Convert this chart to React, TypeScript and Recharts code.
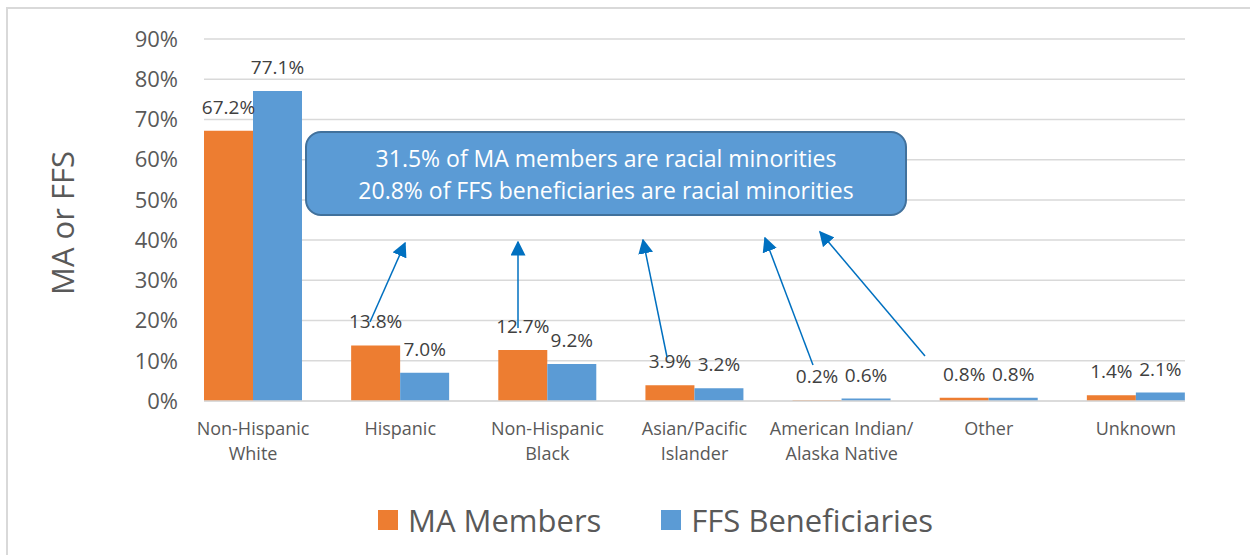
import {
  BarChart,
  Bar,
  XAxis,
  YAxis,
  CartesianGrid,
  Legend,
  LabelList,
  Label,
} from 'recharts';

const categories = [
  'Non-Hispanic\nWhite',
  'Hispanic',
  'Non-Hispanic\nBlack',
  'Asian/Pacific\nIslander',
  'American Indian/\nAlaska Native',
  'Other',
  'Unknown',
];
const maMembers = [67.2, 13.8, 12.7, 3.9, 0.2, 0.8, 1.4];
const ffsBeneficiaries = [77.1, 7.0, 9.2, 3.2, 0.6, 0.8, 2.1];
const yTicks = [0, 10, 20, 30, 40, 50, 60, 70, 80, 90];
const seriesNames = ['MA Members', 'FFS Beneficiaries'];
const calloutLines = [
  '31.5% of MA members are racial minorities',
  '20.8% of FFS beneficiaries are racial minorities',
];

// arrow annotations: tail -> tip, in page pixels
const arrows = [
  [370, 322, 405, 243],
  [518, 328, 518, 242],
  [667, 357, 643, 240],
  [813, 365, 765, 238],
  [925, 356, 820, 232],
];

const ORANGE = '#ED7D31';
const BLUE = '#5B9BD5';
const TEXT = '#595959';
const FONT = '"Open Sans", sans-serif';

const data = categories.map((c, i) => ({
  category: c,
  ma: maMembers[i],
  ffs: ffsBeneficiaries[i],
}));

function CategoryTick({ x, y, payload }: any) {
  const lines = String(payload.value).split('\n');
  return (
    <text x={x} y={y} textAnchor="middle" fill={TEXT} fontSize={18} fontFamily={FONT}>
      {lines.map((l, i) => (
        <tspan key={i} x={x} dy={i === 0 ? 34 : 25}>
          {l}
        </tspan>
      ))}
    </text>
  );
}

function LegendContent({ payload }: any) {
  const items = [...(payload || [])].sort(
    (a: any, b: any) => seriesNames.indexOf(a.value) - seriesNames.indexOf(b.value)
  );
  return (
    <div style={{ display: 'flex', alignItems: 'center', height: 40, paddingLeft: 378 }}>
      {items.map((p: any) => (
        <div key={p.value} style={{ display: 'flex', alignItems: 'center', marginRight: 60 }}>
          <span style={{ width: 20, height: 20, background: p.color, marginRight: 10 }} />
          <span style={{ fontSize: 31, color: TEXT, lineHeight: '40px', fontFamily: FONT }}>
            {p.value}
          </span>
        </div>
      ))}
    </div>
  );
}

function AxisTitle({ viewBox }: any) {
  const cx = viewBox.x + 62;
  const cy = viewBox.y + viewBox.height / 2 + 3;
  return (
    <text
      x={cx}
      y={cy}
      transform={`rotate(-90 ${cx} ${cy})`}
      textAnchor="middle"
      dominantBaseline="central"
      fontSize={31}
      fill={TEXT}
      fontFamily={FONT}
    >
      MA or FFS
    </text>
  );
}

export default function App() {
  return (
    <div
      style={{
        position: 'relative',
        width: 1250,
        height: 555,
        overflow: 'hidden',
        background: '#fff',
        fontFamily: FONT,
      }}
    >
      <style>{'body{margin:0}'}</style>
      <div
        style={{
          position: 'absolute',
          left: 6,
          top: 7,
          width: 1300,
          height: 600,
          border: '2px solid #D9D9D9',
        }}
      />
      <BarChart
        width={1250}
        height={555}
        data={data}
        margin={{ top: 39, right: 65, left: 0, bottom: 54 }}
        barGap={0}
        barCategoryGap={24.5}
      >
        <CartesianGrid vertical={false} stroke="#D9D9D9" strokeWidth={1.5} />
        <XAxis
          dataKey="category"
          height={60}
          padding={{ left: -24.5, right: -24.5 }}
          axisLine={{ stroke: '#D9D9D9', strokeWidth: 1.5 }}
          tickLine={false}
          tickSize={0}
          tickMargin={0}
          interval={0}
          tick={<CategoryTick />}
        />
        <YAxis
          width={204}
          domain={[0, 90]}
          ticks={yTicks}
          axisLine={false}
          tickLine={false}
          tickSize={0}
          tickMargin={26}
          tickFormatter={(v) => `${v}%`}
          tick={{ fill: TEXT, fontSize: 22, fontFamily: FONT }}
        >
          <Label content={<AxisTitle />} />
        </YAxis>
        <Legend
          content={<LegendContent />}
          wrapperStyle={{ left: 0, top: 500, bottom: 'auto', width: 1250 }}
        />
        <Bar dataKey="ma" name={seriesNames[0]} fill={ORANGE} isAnimationActive={false}>
          <LabelList
            dataKey="ma"
            position="top"
            offset={17}
            fill="#404040"
            fontSize={19}
            fontFamily={FONT}
            formatter={(v: any) => `${Number(v).toFixed(1)}%`}
          />
        </Bar>
        <Bar dataKey="ffs" name={seriesNames[1]} fill={BLUE} isAnimationActive={false}>
          <LabelList
            dataKey="ffs"
            position="top"
            offset={17}
            fill="#404040"
            fontSize={19}
            fontFamily={FONT}
            formatter={(v: any) => `${Number(v).toFixed(1)}%`}
          />
        </Bar>
      </BarChart>
      <svg
        width={1250}
        height={555}
        style={{ position: 'absolute', left: 0, top: 0, pointerEvents: 'none' }}
      >
        <defs>
          <marker
            id="arrowHead"
            viewBox="0 0 10 10"
            refX={9}
            refY={5}
            markerUnits="userSpaceOnUse"
            markerWidth={15}
            markerHeight={15}
            orient="auto"
          >
            <path d="M0,0 L10,5 L0,10 z" fill="#0070C0" />
          </marker>
        </defs>
        {arrows.map(([x1, y1, x2, y2], i) => (
          <line
            key={i}
            x1={x1}
            y1={y1}
            x2={x2}
            y2={y2}
            stroke="#0070C0"
            strokeWidth={1.5}
            markerEnd="url(#arrowHead)"
          />
        ))}
      </svg>
      <div
        style={{
          position: 'absolute',
          left: 305,
          top: 131,
          width: 602,
          height: 85,
          boxSizing: 'border-box',
          background: BLUE,
          border: '2px solid #41719C',
          borderRadius: 16,
          color: '#fff',
          fontSize: 23,
          lineHeight: '32px',
          display: 'flex',
          flexDirection: 'column',
          alignItems: 'center',
          justifyContent: 'center',
        }}
      >
        {calloutLines.map((l) => (
          <div key={l}>{l}</div>
        ))}
      </div>
    </div>
  );
}
